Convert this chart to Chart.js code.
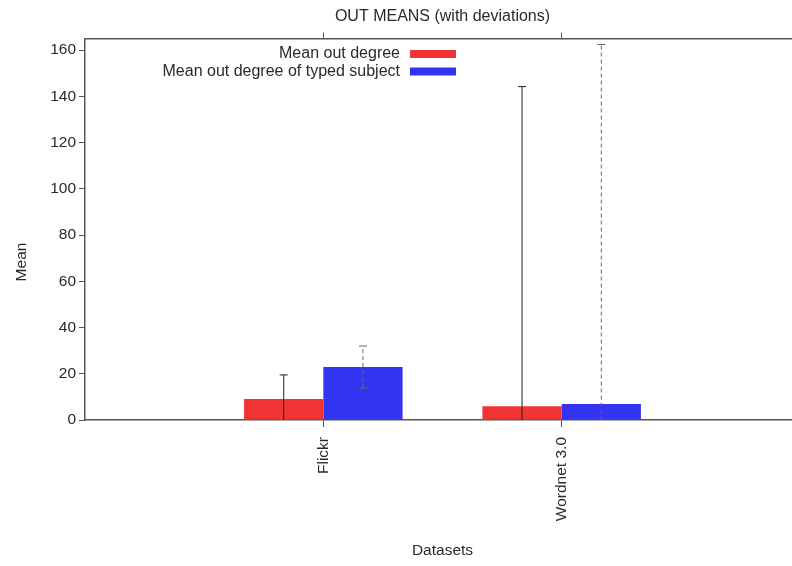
<!DOCTYPE html>
<html>
<head>
<meta charset="utf-8">
<script src="https://cdn.jsdelivr.net/npm/chart.js@4"></script>
<style>
  html, body { margin: 0; padding: 0; background: #fff; overflow: hidden; }
  canvas { display: block; }
</style>
</head>
<body>
<canvas id="outMeansChart" width="804" height="566" style="width:804px;height:566px"></canvas>
<script>
// data (empty slots pad the x range like the original)
var categories = ['', 'Flickr', 'Wordnet 3.0', ''];
var meanOut = [null, 9.1, 6.0, null];
var meanOutTyped = [null, 22.9, 6.9, null];
var devOut = [null, 10.4, 138.2, null];
var devOutTyped = [null, 9.1, 155.5, null];
var yTicks = [0, 20, 40, 60, 80, 100, 120, 140, 160];

var FONT = 'Liberation Sans, Arial, sans-serif';
var AXIS = '#555';
var TEXT = '#2a2a2a';

function tickColor(ctx) {
    return ctx.tick && ctx.tick.label === '' ? 'rgba(0,0,0,0)' : AXIS;
}

function noSidePadding(s) {
    s.paddingLeft = 0;
    s.paddingRight = 0;
}

// error bars drawn through the y scale
var errorBars = {
    id: 'errorBars',
    afterDatasetsDraw: function (chart) {
        var c = chart.ctx, area = chart.chartArea, y = chart.scales.y;
        c.save();
        c.beginPath();
        c.rect(area.left, area.top, area.right - area.left, area.bottom - area.top);
        c.clip();
        chart.data.datasets.forEach(function (ds, i) {
            var meta = chart.getDatasetMeta(i);
            meta.data.forEach(function (bar, j) {
                var m = ds.data[j], d = ds.deviations[j];
                if (m == null) return;
                var top = y.getPixelForValue(m + d), bot = y.getPixelForValue(m - d);
                c.strokeStyle = ds.errorColor;
                c.lineWidth = 1;
                c.setLineDash(ds.errorDash);
                c.beginPath();
                c.moveTo(bar.x, bot); c.lineTo(bar.x, top);
                c.stroke();
                c.setLineDash([]);
                c.beginPath();
                c.moveTo(bar.x - 4, top); c.lineTo(bar.x + 4, top);
                c.moveTo(bar.x - 4, bot); c.lineTo(bar.x + 4, bot);
                c.stroke();
            });
        });
        c.restore();
    }
};

// gnuplot style key: text right aligned, sample box after it
var keyBox = {
    id: 'keyBox',
    afterDraw: function (chart) {
        var c = chart.ctx;
        c.save();
        c.font = '16px ' + FONT;
        c.textAlign = 'right';
        c.textBaseline = 'middle';
        chart.data.datasets.forEach(function (ds, i) {
            var yy = 54 + i * 17.5;
            c.fillStyle = TEXT;
            c.fillText(ds.label, 400, yy);
            c.fillStyle = ds.backgroundColor;
            c.fillRect(410, yy - 4, 46, 8);
        });
        // y axis title
        c.translate(22, 262);
        c.rotate(-Math.PI / 2);
        c.textAlign = 'center';
        c.font = '15.5px ' + FONT;
        c.fillStyle = TEXT;
        c.fillText('Mean', 0, 0);
        c.restore();
    }
};

var ctx = document.getElementById('outMeansChart').getContext('2d');
var outMeansChart = new Chart(ctx, {
    type: 'bar',
    data: {
        labels: categories,
        datasets: [{
            label: 'Mean out degree',
            data: meanOut,
            deviations: devOut,
            backgroundColor: '#f23333',
            errorColor: '#222',
            errorDash: [],
            borderWidth: 0
        }, {
            label: 'Mean out degree of typed subject',
            data: meanOutTyped,
            deviations: devOutTyped,
            backgroundColor: '#3333f2',
            errorColor: '#666',
            errorDash: [4, 3],
            borderWidth: 0
        }]
    },
    options: {
        responsive: false,
        animation: false,
        layout: { padding: { left: 0, right: 4, top: 0, bottom: 0 } },
        datasets: { bar: { categoryPercentage: 0.665, barPercentage: 1 } },
        scales: {
            x: {
                type: 'category',
                offset: false,
                grid: { offset: false, drawOnChartArea: false, tickLength: 7, tickColor: tickColor },
                border: { display: true, color: AXIS, width: 1.5 },
                ticks: {
                    minRotation: 90, maxRotation: 90, autoSkip: false, padding: 10,
                    color: TEXT, font: { family: FONT, size: 15.5 }
                },
                title: {
                    display: true, text: 'Datasets', color: TEXT,
                    font: { family: FONT, size: 15.5 }, padding: 6
                },
                afterFit: function (s) { s.height = 146; noSidePadding(s); }
            },
            xTop: {
                type: 'category',
                position: 'top',
                offset: false,
                grid: { offset: false, drawOnChartArea: false, tickLength: 6, tickColor: tickColor },
                border: { display: true, color: AXIS, width: 1.5 },
                ticks: { display: false },
                // chart title sits over the plot area, as in the original
                title: {
                    display: true, text: 'OUT MEANS (with deviations)', color: TEXT,
                    font: { family: FONT, size: 16, lineHeight: 1.2 }, padding: { top: 6.5, bottom: 0 }
                },
                afterFit: function (s) { s.height = 38.5; noSidePadding(s); }
            },
            y: {
                min: 0,
                max: 165,
                grid: { drawOnChartArea: false, tickLength: 6, color: AXIS },
                border: { display: true, color: AXIS, width: 1.5 },
                afterBuildTicks: function (s) {
                    s.ticks = yTicks.map(function (v) { return { value: v }; });
                },
                ticks: { padding: 3, color: TEXT, font: { family: FONT, size: 15.5 } },
                afterFit: function (s) { s.width = 85; }
            }
        },
        plugins: {
            legend: { display: false },
            tooltip: { enabled: false },
            title: { display: false }
        }
    },
    plugins: [errorBars, keyBox]
});
</script>
</body>
</html>
